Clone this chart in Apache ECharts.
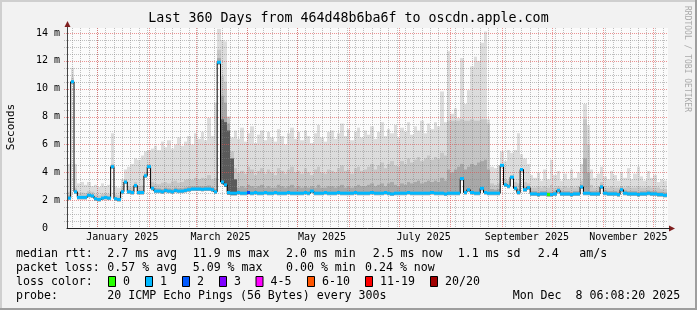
<!DOCTYPE html>
<html><head><meta charset="utf-8">
<script src="https://cdn.jsdelivr.net/npm/echarts@6/dist/echarts.min.js"></script>
<style>html,body{margin:0;padding:0;background:#f2f2f2}#c{width:697px;height:310px}</style>
</head><body><div id="c"></div>
<script>
// ---- data (days since 13 Dec 2024 00:00, 2-day columns) ----
const firstDay = 1, stepDays = 2;
const median = [
2.15,10.5,2.6,2.2,2.2,2.2,2.35,2.3,2.1,2.05,
2.15,2.2,2.15,4.4,2.1,2.05,2.6,3.3,2.6,2.55,
3.05,2.55,2.55,3.75,4.4,2.85,2.65,2.65,2.6,2.7,
2.65,2.6,2.7,2.65,2.65,2.7,2.75,2.8,2.8,2.8,
2.78,2.8,2.8,2.75,2.6,11.9,3.3,3.1,2.55,2.5,
2.5,2.55,2.5,2.5,2.55,2.5,2.55,2.5,2.5,2.55,
2.5,2.5,2.55,2.5,2.5,2.5,2.55,2.5,2.5,2.5,
2.5,2.55,2.5,2.65,2.5,2.5,2.5,2.55,2.5,2.5,
2.5,2.55,2.5,2.5,2.5,2.5,2.55,2.5,2.5,2.5,
2.5,2.55,2.5,2.5,2.5,2.55,2.5,2.45,2.5,2.5,
2.5,2.5,2.55,2.5,2.5,2.5,2.5,2.5,2.5,2.55,
2.5,2.5,2.5,2.45,2.5,2.5,2.5,2.5,3.55,2.55,
2.75,2.55,2.5,2.5,2.85,2.55,2.5,2.5,2.5,2.5,
4.5,3.1,3.0,3.65,2.85,2.55,4.2,2.75,2.9,2.45,
2.45,2.4,2.45,2.45,2.4,2.4,2.45,2.7,2.45,2.45,
2.45,2.4,2.45,2.45,2.95,2.5,2.5,2.45,2.45,2.45,
2.95,2.5,2.45,2.45,2.45,2.4,2.75,2.5,2.45,2.45,
2.45,2.4,2.45,2.45,2.5,2.45,2.45,2.4,2.4,2.35];
const smokeTop = [
4.6,11.5,4.6,3.2,3.3,3.1,3.3,3.0,3.1,2.95,
3.2,3.0,3.1,6.8,3.0,2.9,3.5,4.2,4.4,4.6,
5.0,4.9,5.2,5.5,5.6,5.7,5.9,5.6,6.2,5.8,
6.3,5.7,6.0,6.5,5.9,6.2,6.6,6.0,6.8,6.4,
6.9,6.3,7.9,6.6,9.0,14.3,13.5,13.4,7.4,6.5,
7.0,6.4,7.2,6.2,6.8,7.3,6.1,6.7,7.0,6.3,
6.9,6.5,6.2,7.1,6.6,6.0,6.8,7.2,6.4,6.9,
6.3,7.0,6.6,6.1,6.8,7.4,6.5,6.2,6.9,7.0,
6.4,6.8,7.5,6.6,7.1,6.3,6.9,7.2,6.5,7.0,
6.7,7.3,6.4,6.9,7.6,6.6,7.1,6.8,7.4,6.5,
7.2,6.9,7.6,6.7,7.3,7.0,7.7,6.8,7.5,7.1,
7.6,7.3,9.8,7.6,12.7,8.2,8.6,7.9,12.2,8.9,
9.9,11.6,12.3,12.0,13.3,14.1,7.8,4.4,4.3,4.5,
5.5,4.8,5.6,5.4,5.6,6.8,5.3,5.0,4.6,3.8,
3.6,4.0,3.4,4.2,3.5,4.9,3.8,4.1,3.4,3.9,
3.5,4.2,3.6,4.0,4.6,8.9,7.4,4.2,3.6,3.9,
4.4,3.7,3.5,4.1,3.8,3.4,4.0,3.6,4.3,3.5,
3.9,4.4,3.7,3.4,4.1,3.6,3.8,3.3,3.5,3.4];
const smokeMid = [
2.6,10.8,2.9,2.5,2.55,2.5,2.65,2.6,2.4,2.35,
2.45,2.5,2.45,4.6,2.4,2.35,3.0,3.5,3.0,2.95,
3.3,3.0,3.05,4.0,4.6,3.3,3.2,3.15,3.25,3.3,
3.2,3.35,3.4,3.25,3.3,3.45,3.5,3.45,3.6,3.5,
3.6,3.55,3.8,3.5,3.6,12.8,10.9,10.5,8.0,5.5,
4.3,4.0,4.1,3.9,4.4,4.2,3.8,4.1,4.3,3.9,
4.2,4.0,3.8,4.3,4.1,3.9,4.2,4.4,4.0,4.1,
3.9,4.3,4.0,3.8,4.2,4.4,4.0,3.9,4.2,4.1,
4.0,4.3,4.5,4.1,4.2,3.9,4.3,4.4,4.1,4.2,
4.4,4.6,4.2,4.5,4.7,4.3,4.6,4.8,4.5,4.4,
4.8,4.6,5.0,4.7,4.9,5.1,4.8,5.0,5.2,4.9,
5.1,5.0,5.4,5.2,7.7,7.7,7.7,7.7,7.8,7.7,
7.7,7.8,7.7,7.7,7.8,7.8,7.5,3.2,3.1,3.2,
4.6,3.5,3.4,3.8,3.3,3.2,4.3,3.3,3.2,2.9,
2.9,3.0,2.9,3.0,2.9,3.1,2.9,3.0,2.9,3.0,
2.9,3.0,2.9,3.0,3.4,7.8,6.0,3.1,2.9,3.0,
3.3,2.9,2.9,3.0,2.9,2.9,3.0,2.9,3.0,2.9,
2.9,3.0,2.9,2.9,3.0,2.9,2.9,2.9,2.8,2.8];
const smokeDark = [
2.35,10.6,2.75,2.3,2.3,2.3,2.45,2.4,2.2,2.15,
2.25,2.3,2.25,4.5,2.2,2.15,2.75,3.4,2.75,2.7,
3.15,2.7,2.7,3.85,4.5,3.0,2.85,2.85,2.8,2.9,
2.85,2.8,2.9,2.85,2.85,2.9,2.95,3.0,3.0,3.0,
3.0,3.0,3.05,2.95,2.8,12.2,9.5,9.0,7.5,4.2,
3.0,2.9,3.0,2.9,3.1,3.0,2.9,3.0,3.1,2.9,
3.0,2.9,2.9,3.1,3.0,2.9,3.0,3.1,2.9,3.0,
2.9,3.0,2.9,3.0,2.9,3.1,2.9,2.9,3.0,3.0,
2.9,3.0,3.1,2.9,3.0,2.9,3.0,3.1,3.0,3.0,
3.1,3.2,3.0,3.1,3.2,3.0,3.2,3.3,3.1,3.0,
3.2,3.1,3.3,3.2,3.3,3.4,3.2,3.3,3.4,3.3,
3.4,3.3,3.6,3.4,4.2,4.0,4.2,4.4,4.6,4.2,
4.4,4.6,4.5,4.7,4.8,4.9,4.2,2.8,2.75,2.8,
4.5,3.2,3.1,3.7,3.0,2.8,4.25,2.95,3.0,2.65,
2.65,2.6,2.65,2.65,2.6,2.6,2.65,2.85,2.65,2.65,
2.65,2.6,2.65,2.65,3.1,5.0,4.0,2.65,2.65,2.65,
3.1,2.7,2.65,2.65,2.65,2.6,2.9,2.7,2.65,2.65,
2.65,2.6,2.65,2.65,2.7,2.65,2.65,2.6,2.6,2.55];
// innermost (darkest) smoke, 0 = none
const smokeCore = [
0,0,0,0,0,0,0,0,0,0, 0,0,0,0,0,0,0,0,0,0, 0,0,0,0,0,0,0,0,0,0, 0,0,0,0,0,0,0,0,0,0,
0,0,0,0,0,11.9,7.8,7.6,7.0,5.0, 3.5,0,0,0,0,0,0,0,0,0, 0,0,0,0,0,0,0,0,0,0, 0,0,0,0,0,0,0,0,0,0,
0,0,0,0,0,0,0,0,0,0, 0,0,0,0,0,0,0,0,0,0, 0,0,0,0,0,0,0,0,0,0, 0,0,0,0,0,0,0,0,0,0,
0,0,0,0,0,0,0,0,0,0, 0,0,0,0,0,0,0,0,0,0, 0,0,0,0,0,0,0,0,0,0, 0,0,0,0,0,0,0,0,0,0,
0,0,0,0,0,0,0,0,0,0, 0,0,0,0,0,0,0,0,0,0];
// loss level per column (0=0, 1=1, 2=2, 3=3, 4=4-5, 5=6-10, 6=11-19, 7=20/20)
const lossCodes = (
'1111111111'+'1111111111'+'1111111111'+'1111111111'+'1111111111'+
'1111211111'+'1111111111'+'1111111111'+'1111111111'+'1111111111'+
'1111111111'+'1111111111'+'1111111111'+'1111111111'+'1111011111'+
'1111111111'+'1111111111'+'1111111111').split('').map(Number);
const lossColors = ['#26ff00','#00b8ff','#0059ff','#7e00ff','#ff00ff','#ff5500','#ff0000','#a00000'];
const lossLabels = ['0','1','2','3','4-5','6-10','11-19','20/20'];

const monthStarts = [19,50,78,109,139,170,200,231,262,292,323,353];
const monthLabelDays = [34,93,154,215,277,338];
const monthLabels = ['January 2025','March 2025','May 2025','July 2025','September 2025','November 2025'];
const yMajor = [2,4,6,8,10,12,14];
const yMinor = [0.5,1,1.5,2.5,3,3.5,4.5,5,5.5,6.5,7,7.5,8.5,9,9.5,10.5,11,11.5,12.5,13,13.5];
const minorDays = [];
for (let d = 3.8; d < 361; d += 5) minorDays.push(d);

const statsRtt = ['2.7 ms avg','11.9 ms max','2.0 ms min','2.5 ms now','1.1 ms sd','2.4','am/s'];
const statsLoss = ['0.57 % avg','5.09 % max','0.00 % min','0.24 % now'];

// ---- build ----
const FONT = 'DejaVu Sans Mono';
const N = median.length;
const colStart = i => firstDay + i * stepDays;
const smokeData = median.map((m, i) => [colStart(i), colStart(i) + stepDays, m, smokeTop[i], smokeMid[i], smokeDark[i], smokeCore[i]]);
const bandData = median.map((m, i) => [colStart(i), colStart(i) + stepDays, m, lossCodes[i]]);
const medLine = median.map((m, i) => [colStart(i), m]);
medLine.push([colStart(N), median[N - 1]]);

const vGrid = minorDays.map(d => [d, 0, 0]).concat(monthStarts.map(d => [d, 0, 1]));
const hGrid = yMinor.map(v => [0, v, 0]).concat(yMajor.map(v => [0, v, 1]));
const GRID_MINOR = 'rgba(130,130,130,0.5)';
const GRID_MAJOR = 'rgba(222,79,79,0.6)';

const chart = echarts.init(document.getElementById('c'));
const txt = (text, x, y, extra) => Object.assign({type: 'text', x, y, silent: true,
  style: Object.assign({text, fill: '#000', fontFamily: FONT, fontSize: 11.6, verticalAlign: 'middle'}, extra || {})});

const legendEls = [];
legendEls.push(txt('median rtt:', 16, 254));
[107.3,192.7,286,372.7,457.7,537.7,579.3].forEach((x, k) => legendEls.push(txt(statsRtt[k], x, 254)));
legendEls.push(txt('packet loss:', 16, 268));
[107.3,192.7,286,365].forEach((x, k) => legendEls.push(txt(statsLoss[k], x, 268)));
legendEls.push(txt('loss color:', 16, 282));
const boxX = [108.5,145.5,182.5,219.5,256,307.5,365.5,430.5];
boxX.forEach((x, k) => {
  legendEls.push({type: 'rect', silent: true, shape: {x: x, y: 276.5, width: 7, height: 10},
    style: {fill: lossColors[k], stroke: '#000', lineWidth: 1}});
  legendEls.push(txt(lossLabels[k], x + 14.5, 282));
});
legendEls.push(txt('probe:', 16, 296));
legendEls.push(txt('20 ICMP Echo Pings (56 Bytes) every 300s', 107.3, 296));
legendEls.push(txt('Mon Dec  8 06:08:20 2025', 512.7, 296));

const option = {
  backgroundColor: '#f2f2f2',
  animation: false,
  grid: {left: 67, right: 29, top: 28, bottom: 82, show: true, backgroundColor: '#fbfbfb', borderWidth: 0},
  xAxis: {
    type: 'value', min: 0.79, max: 361.8, z: 10,
    axisLine: {show: true, lineStyle: {color: '#222', width: 1}},
    axisTick: {show: false}, splitLine: {show: false},
    axisLabel: {customValues: monthLabelDays, margin: 4, color: '#000', fontFamily: FONT, fontSize: 10,
      formatter: v => monthLabels[monthLabelDays.indexOf(v)] || ''}
  },
  yAxis: {
    type: 'value', min: 0, max: 14.36, interval: 2, z: 10,
    axisLine: {show: true, lineStyle: {color: '#444', width: 1}},
    axisTick: {show: false}, splitLine: {show: false},
    axisLabel: {margin: 7, color: '#000', fontFamily: FONT, fontSize: 10,
      formatter: v => v === 0 ? '0  ' : (Math.abs(v % 2) < 1e-9 ? v + ' m' : '')}
  },
  series: [
    {type: 'custom', z: 1, silent: true, data: smokeData, encode: {x: [0, 1], y: [2, 3]},
      renderItem: (p, api) => {
        const x0 = Math.round(api.coord([api.value(0), 0])[0]);
        const x1 = Math.round(api.coord([api.value(1), 0])[0]);
        const ym = api.coord([0, api.value(2)])[1] + 2;
        const mk = (v, fill) => { const yt = api.coord([0, v])[1]; return {type: 'rect', shape: {x: x0, y: yt, width: x1 - x0, height: Math.max(0, ym - yt)}, style: {fill}}; };
        const ch = [mk(api.value(3), '#dcdcdc'), mk(api.value(4), '#c6c6c6'), mk(api.value(5), '#a8a8a8')];
        if (api.value(6) > 0) ch.push(mk(api.value(6), '#5a5a5a'));
        return {type: 'group', children: ch};
      }},
    {type: 'custom', z: 2, silent: true, clip: false, data: vGrid, encode: {x: 0, y: 1},
      renderItem: (p, api) => {
        const cs = p.coordSys;
        const x = Math.round(api.coord([api.value(0), 0])[0]) + 0.5;
        return {type: 'line', shape: {x1: x, y1: cs.y, x2: x, y2: cs.y + cs.height},
          style: {stroke: api.value(2) ? GRID_MAJOR : GRID_MINOR, lineWidth: 1, lineDash: [1, 1]}};
      }},
    {type: 'custom', z: 2, silent: true, clip: false, data: hGrid, encode: {x: 0, y: 1},
      renderItem: (p, api) => {
        const cs = p.coordSys;
        const y = Math.round(api.coord([0, api.value(1)])[1]) + 0.5;
        return {type: 'line', shape: {x1: cs.x - 3, y1: y, x2: cs.x + cs.width, y2: y},
          style: {stroke: api.value(2) ? GRID_MAJOR : GRID_MINOR, lineWidth: 1, lineDash: [1, 1]}};
      }},
    {type: 'line', z: 3, silent: true, step: 'end', symbol: 'none', data: medLine,
      lineStyle: {color: '#000', width: 1}},
    {type: 'custom', z: 4, silent: true, data: bandData, encode: {x: [0, 1], y: 2},
      renderItem: (p, api) => {
        const x0 = Math.round(api.coord([api.value(0), 0])[0]);
        const x1 = Math.round(api.coord([api.value(1), 0])[0]);
        const ym = api.coord([0, api.value(2)])[1];
        return {type: 'rect', shape: {x: x0, y: ym - 1.5, width: x1 - x0, height: 3},
          style: {fill: lossColors[api.value(3)]}};
      }}
  ],
  graphic: [
    {type: 'rect', silent: true, shape: {x: 0, y: 0, width: 697, height: 2}, style: {fill: '#cfcfcf'}},
    {type: 'rect', silent: true, shape: {x: 0, y: 0, width: 2, height: 310}, style: {fill: '#cfcfcf'}},
    {type: 'rect', silent: true, shape: {x: 0, y: 308, width: 697, height: 2}, style: {fill: '#9e9e9e'}},
    {type: 'rect', silent: true, shape: {x: 695, y: 0, width: 2, height: 310}, style: {fill: '#9e9e9e'}},
    txt('Last 360 Days from 464d48b6ba6f to oscdn.apple.com', 348.5, 18.5, {fontSize: 13.3, align: 'center'}),
    {type: 'text', silent: true, x: 11, y: 127, rotation: Math.PI / 2,
      style: {text: 'Seconds', fill: '#000', fontFamily: FONT, fontSize: 11, align: 'center', verticalAlign: 'middle'}},
    {type: 'text', silent: true, x: 687, y: 59, rotation: -Math.PI / 2,
      style: {text: 'RRDTOOL / TOBI OETIKER', fill: '#aaaaaa', fontFamily: FONT, fontSize: 8, align: 'center', verticalAlign: 'middle'}},
    {type: 'line', silent: true, shape: {x1: 67.5, y1: 27, x2: 67.5, y2: 29}, style: {stroke: '#444', lineWidth: 1}},
    {type: 'polygon', silent: true, shape: {points: [[67.5, 21], [64.5, 27], [70.5, 27]]}, style: {fill: '#7f1f1f'}},
    {type: 'polygon', silent: true, shape: {points: [[675, 228.5], [669, 225.5], [669, 231.5]]}, style: {fill: '#7f1f1f'}},
    {type: 'line', silent: true, shape: {x1: 668, y1: 228.5, x2: 670, y2: 228.5}, style: {stroke: '#222', lineWidth: 1}}
  ].concat(legendEls)
};
chart.setOption(option);
</script></body></html>
